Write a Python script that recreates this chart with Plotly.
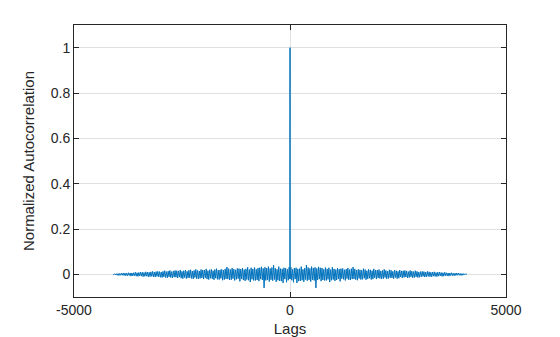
import plotly.graph_objects as go

# Autocorrelation of a real signal is symmetric: values read for positive lags,
# mirrored for negative lags.
pos_lags = [1] + list(range(20, 4081, 20)) + [4095]
pos_vals = [
    -0.020,
    0.031, -0.026, 0.022, -0.035, 0.027, -0.021, 0.029, -0.038, 0.024, -0.030,
    0.025, -0.029, 0.034, -0.026, 0.022, -0.033, 0.027, -0.023, 0.041, -0.028,
    0.030, -0.024, 0.026, -0.032, 0.034, -0.024, 0.028, -0.027, 0.031, -0.060,
    0.026, -0.025, 0.033, -0.021, 0.029, -0.030, 0.028, -0.025, 0.022, -0.027,
    0.030, -0.027, 0.024, -0.022, 0.029, -0.034, 0.021, -0.026, 0.031, -0.023,
    0.024, -0.029, 0.021, -0.025, 0.027, -0.020, 0.023, -0.031, 0.025, -0.019,
    0.026, -0.022, 0.020, -0.027, 0.023, -0.019, 0.028, -0.024, 0.021, -0.025,
    0.025, -0.021, 0.032, -0.020, 0.024, -0.023, 0.019, -0.026, 0.022, -0.018,
    0.020, -0.023, 0.018, -0.022, 0.025, -0.017, 0.021, -0.024, 0.016, -0.020,
    0.022, -0.017, 0.020, -0.023, 0.016, -0.021, 0.024, -0.015, 0.019, -0.021,
    0.019, -0.016, 0.021, -0.018, 0.015, -0.020, 0.017, -0.019, 0.022, -0.014,
    0.017, -0.020, 0.014, -0.018, 0.020, -0.015, 0.018, -0.016, 0.013, -0.019,
    0.018, -0.014, 0.016, -0.019, 0.013, -0.017, 0.019, -0.012, 0.015, -0.016,
    0.016, -0.013, 0.017, -0.012, 0.015, -0.016, 0.012, -0.014, 0.017, -0.011,
    0.014, -0.015, 0.012, -0.014, 0.016, -0.011, 0.013, -0.014, 0.010, -0.013,
    0.012, -0.011, 0.013, -0.009, 0.012, -0.012, 0.010, -0.011, 0.013, -0.009,
    0.011, -0.010, 0.009, -0.011, 0.010, -0.008, 0.011, -0.009, 0.008, -0.010,
    0.009, -0.008, 0.010, -0.007, 0.008, -0.009, 0.007, -0.008, 0.009, -0.006,
    0.007, -0.007, 0.006, -0.008, 0.006, -0.005, 0.007, -0.006, 0.005, -0.006,
    0.005, -0.005, 0.006, -0.004, 0.005, -0.004, 0.004, -0.005, 0.003, -0.004,
    0.003, -0.002, 0.002, -0.001,
    0.000,
]
peak_lag = 0
peak_val = 1.0

lags = [-l for l in reversed(pos_lags)] + [peak_lag] + pos_lags
vals = list(reversed(pos_vals)) + [peak_val] + pos_vals

x_ticks = [-5000, 0, 5000]
y_ticks = [0, 0.2, 0.4, 0.6, 0.8, 1]

FONT = "Liberation Sans, Arial, sans-serif"
INK = "#262626"

fig = go.Figure()
fig.add_trace(go.Scatter(x=lags, y=vals, mode="lines",
                         line=dict(color="#0072BD", width=1)))

axis_common = dict(showline=True, linecolor=INK, linewidth=1, mirror="ticks",
                   ticks="inside", ticklen=5, tickcolor=INK, automargin=False,
                   showgrid=True, gridcolor="#e0e0e0", gridwidth=1, zeroline=False,
                   tickfont=dict(family=FONT, size=14, color=INK))

fig.update_layout(
    width=560, height=337,
    margin=dict(l=74, r=54, t=25, b=40),
    paper_bgcolor="white", plot_bgcolor="white",
    showlegend=False,
    xaxis=dict(range=[-5000, 5000], tickvals=x_ticks, ticktext=[str(v) for v in x_ticks],
               title=dict(text="Lags", font=dict(family=FONT, size=15, color=INK), standoff=6),
               **axis_common),
    yaxis=dict(range=[-0.1, 1.1], tickvals=y_ticks, ticktext=[str(v) for v in y_ticks],
               title=dict(text="Normalized Autocorrelation", font=dict(family=FONT, size=15, color=INK), standoff=12),
               **axis_common),
)

fig.write_html("out.html")
